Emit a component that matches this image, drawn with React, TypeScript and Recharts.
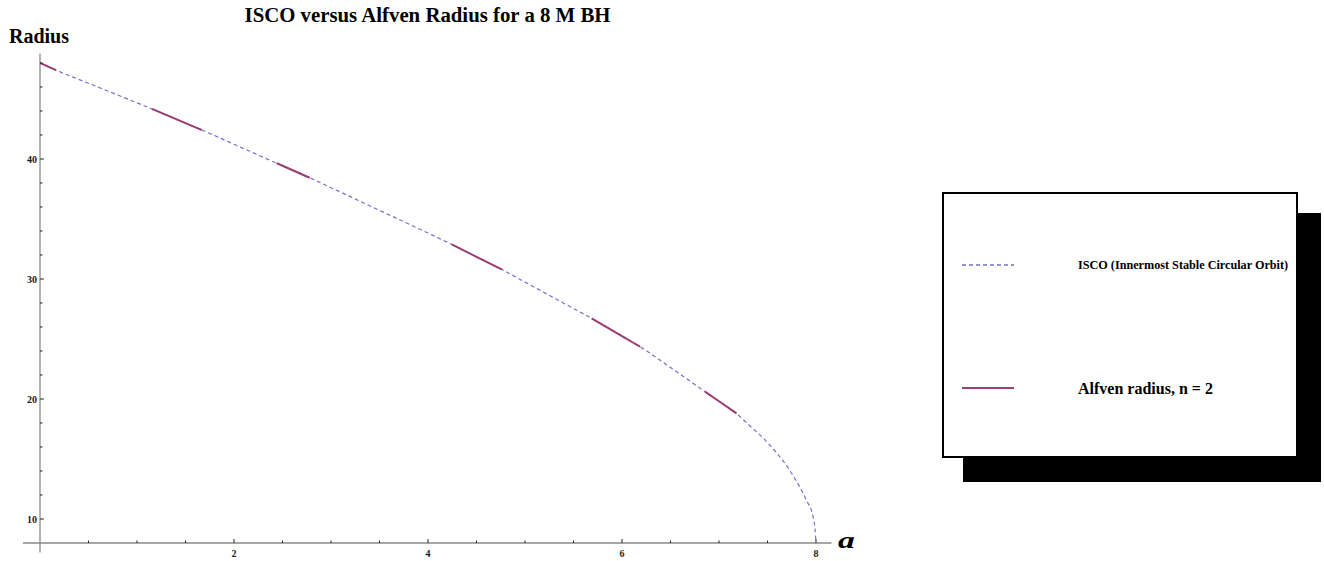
import React from 'react';
import { LineChart, Line, XAxis, YAxis, ReferenceLine } from 'recharts';

const aValues = [0, 0.165, 0.5, 1, 1.155, 1.5, 1.667, 2, 2.44, 2.5, 2.78, 3, 3.5, 4, 4.244, 4.5, 4.76, 5, 5.5, 5.687, 6, 6.186, 6.5, 6.856, 7, 7.18, 7.25, 7.5, 7.75, 7.9, 7.97, 7.99, 8];
const iscoValues = [48.0, 47.4, 46.31, 44.68, 44.17, 42.99, 42.42, 41.23, 39.65, 39.44, 38.44, 37.61, 35.72, 33.83, 32.89, 31.85, 30.8, 29.74, 27.54, 26.72, 25.24, 24.36, 22.63, 20.61, 19.81, 18.8, 18.27, 16.37, 13.79, 11.58, 10.19, 9.2, 8.0];
const alfvenValues: (number | null)[] = [48.0, 47.4, null, null, 44.17, 42.99, 42.42, null, 39.65, 39.44, 38.44, null, null, null, 32.89, 31.85, 30.8, null, null, 26.72, 25.24, 24.36, null, 20.61, 19.81, 18.8, null, null, null, null, null, null, null];

const xTicks = [0.5, 1, 1.5, 2, 2.5, 3, 3.5, 4, 4.5, 5, 5.5, 6, 6.5, 7, 7.5, 8];
const xLabeled = [2, 4, 6, 8];
const yTicks = [10, 12, 14, 16, 18, 20, 22, 24, 26, 28, 30, 32, 34, 36, 38, 40, 42, 44, 46, 48];
const yLabeled = [10, 20, 30, 40];

const title = 'ISCO versus Alfven Radius for a 8 M BH';
const yTitle = 'Radius';
const xTitle = 'a';
const iscoName = 'ISCO (Innermost Stable Circular Orbit)';
const alfvenName = 'Alfven radius, n = 2';

const data = aValues.map((a, i) => ({ a, isco: iscoValues[i], alfven: alfvenValues[i] }));

const SERIF = '"Liberation Serif", "DejaVu Serif", serif';
const ISCO_COLOR = '#7272c8';
const ALFVEN_COLOR = '#9a3d72';
const AXIS_COLOR = '#8a8a8a';

const XTick = (props: any) => {
  const { x, y, payload } = props;
  const major = xLabeled.includes(payload.value);
  return (
    <g>
      <line x1={x} x2={x} y1={y} y2={y - (major ? 4 : 2.5)} stroke="#222" strokeWidth={1} />
      {major && (
        <text x={x} y={y + 14} textAnchor="middle" fontFamily={SERIF} fontWeight="bold" fontSize={10} fill="#1a1a2a">
          {payload.value}
        </text>
      )}
    </g>
  );
};

const YTick = (props: any) => {
  const { x, y, payload } = props;
  const major = yLabeled.includes(payload.value);
  return (
    <g>
      <line x1={x} x2={x + (major ? 4 : 2.5)} y1={y} y2={y} stroke="#222" strokeWidth={1} />
      {major && (
        <text x={x - 3} y={y + 3.5} textAnchor="end" fontFamily={SERIF} fontWeight="bold" fontSize={10} fill="#1a1a2a">
          {payload.value}
        </text>
      )}
    </g>
  );
};

export default function App() {
  return (
    <div style={{ position: 'absolute', left: 0, top: 0, width: 1324, height: 561, background: '#fff' }}>
      <LineChart
        width={1324}
        height={561}
        data={data}
        margin={{ top: 53.4, right: 492.5, bottom: 4, left: 10 }}
      >
        <XAxis
          dataKey="a"
          type="number"
          domain={[0, 8.16]}
          allowDataOverflow
          ticks={xTicks}
          interval={0}
          tickLine={false}
          axisLine={false}
          tickSize={0}
          tickMargin={0}
          height={14}
          tick={<XTick />}
        />
        <YAxis
          type="number"
          domain={[8, 48.8]}
          allowDataOverflow
          ticks={yTicks}
          interval={0}
          tickLine={false}
          axisLine={false}
          tickSize={0}
          tickMargin={0}
          width={30}
          tick={<YTick />}
        />
        <ReferenceLine segment={[{ x: -0.175, y: 8 }, { x: 8.16, y: 8 }]} stroke={AXIS_COLOR} strokeWidth={1.3} ifOverflow="visible" />
        <ReferenceLine segment={[{ x: 0, y: 7.2 }, { x: 0, y: 48.8 }]} stroke={AXIS_COLOR} strokeWidth={1.3} ifOverflow="visible" />
        <Line
          type="monotone"
          dataKey="isco"
          stroke={ISCO_COLOR}
          strokeWidth={1.2}
          strokeDasharray="4 3"
          dot={false}
          isAnimationActive={false}
        />
        <Line
          type="monotone"
          dataKey="alfven"
          stroke={ALFVEN_COLOR}
          strokeWidth={2}
          dot={false}
          connectNulls={false}
          isAnimationActive={false}
        />
      </LineChart>

      <div style={{ position: 'absolute', left: 0, width: 855, top: 3, textAlign: 'center', fontFamily: SERIF, fontWeight: 'bold', fontSize: 20.8, lineHeight: '24px', color: '#000', whiteSpace: 'nowrap' }}>
        {title}
      </div>
      <div style={{ position: 'absolute', left: 9, top: 25, fontFamily: SERIF, fontWeight: 'bold', fontSize: 20, lineHeight: '23px', color: '#000' }}>
        {yTitle}
      </div>
      <div style={{ position: 'absolute', left: 838, top: 527, fontFamily: SERIF, fontWeight: 'bold', fontStyle: 'italic', fontSize: 24, lineHeight: '27px', color: '#000', transform: 'scaleX(1.4)', transformOrigin: 'left top' }}>
        {xTitle}
      </div>

      <div style={{ position: 'absolute', left: 963, top: 213, width: 358, height: 269, background: '#000' }} />
      <div style={{ position: 'absolute', left: 942, top: 192, width: 352, height: 262, background: '#fff', border: '2px solid #000' }}>
        <svg width={352} height={262} style={{ position: 'absolute', left: 0, top: 0 }}>
          <line x1={18} x2={70} y1={71} y2={71} stroke={ISCO_COLOR} strokeWidth={1.3} strokeDasharray="4 3" />
          <line x1={18} x2={70} y1={194} y2={194} stroke={ALFVEN_COLOR} strokeWidth={2} />
          <text x={134} y={75} fontFamily={SERIF} fontWeight="bold" fontSize={12.2} fill="#000">{iscoName}</text>
          <text x={134} y={199.5} fontFamily={SERIF} fontWeight="bold" fontSize={16} fill="#000">{alfvenName}</text>
        </svg>
      </div>
    </div>
  );
}
